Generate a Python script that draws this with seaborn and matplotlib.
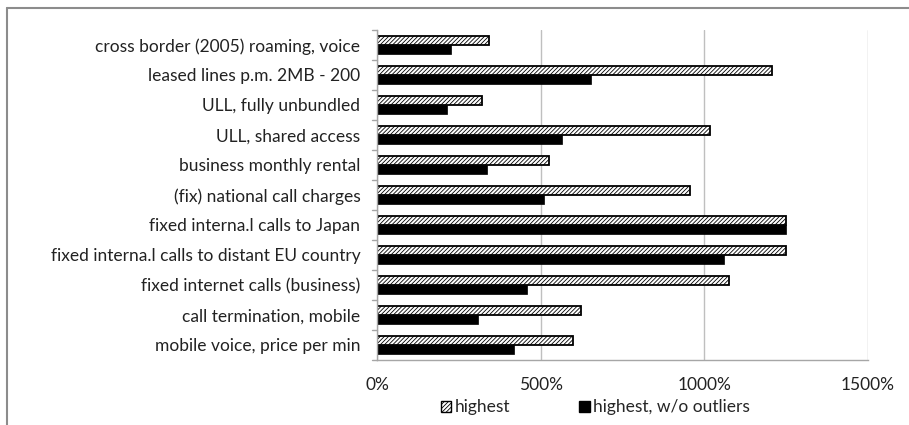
import pandas as pd
import numpy as np
import matplotlib
matplotlib.use("Agg")
import matplotlib.pyplot as plt
from matplotlib.lines import Line2D
from matplotlib.patches import Patch
import seaborn as sns

# values (highest price as % of lowest)
categories = [
    "cross border (2005) roaming, voice",
    "leased lines p.m. 2MB - 200",
    "ULL, fully unbundled",
    "ULL, shared access",
    "business monthly rental",
    "(fix) national call charges",
    "fixed interna.l calls to Japan",
    "fixed interna.l calls to distant EU country",
    "fixed internet calls (business)",
    "call termination, mobile",
    "mobile voice, price per min",
]
highest = [342, 1206, 320, 1017, 526, 957, 1249, 1249, 1075, 623, 600]
highest_wo = [227, 654, 213, 565, 337, 510, 1249, 1059, 458, 310, 419]
series = ["highest", "highest, w/o outliers"]
xticks = [0, 500, 1000, 1500]

sns.set_style("white")
plt.rcParams['font.family'] = ['Lato', 'DejaVu Sans']
plt.rcParams['hatch.linewidth'] = 0.6
FS = 12.5

df = pd.DataFrame({
    "category": categories * 2,
    "value": highest + highest_wo,
    "series": [series[0]] * len(categories) + [series[1]] * len(categories),
})

fig = plt.figure(figsize=(9.09, 4.25), dpi=100)
ax = fig.add_axes([377/909, 1 - 360/425, 491/909, 330/425])

sns.barplot(data=df, y="category", x="value", hue="series", orient="h",
            palette=["white", "black"], width=0.58, ax=ax, legend=False)

for bar in ax.containers[0]:
    bar.set_hatch("////////")
    bar.set_edgecolor("black")
    bar.set_linewidth(1.3)
for bar in ax.containers[1]:
    bar.set_edgecolor("black")
    bar.set_linewidth(0.5)

ax.set_xlim(0, 1500)
ax.set_ylim(len(categories) - 0.5, -0.5)
ax.set_xticks(xticks)
ax.set_xticklabels([f"{t}%" for t in xticks], fontsize=FS, color="#222222")
ax.set_yticks(np.arange(len(categories)))
ax.set_yticklabels(categories, fontsize=FS, color="#222222")
ax.set_xlabel("")
ax.set_ylabel("")
ax.xaxis.grid(True, color="#bfbfbf", linewidth=1)
ax.set_axisbelow(True)
for s in ["top", "right"]:
    ax.spines[s].set_visible(False)
for s in ["left", "bottom"]:
    ax.spines[s].set_color("#a6a6a6")
    ax.spines[s].set_linewidth(1)
ax.tick_params(axis="y", length=0, pad=12)
ax.tick_params(axis="x", length=0, pad=12)
# category separator ticks on the y axis
for yb in np.arange(-0.5, len(categories) + 0.5, 1):
    ax.plot([-0.011, 0], [yb, yb], transform=ax.get_yaxis_transform(),
            color="#a6a6a6", lw=1, clip_on=False)

handles = [Patch(facecolor="white", edgecolor="black", hatch="////////", linewidth=1),
           Patch(facecolor="black", edgecolor="black")]
fig.legend(handles, series, loc="center", bbox_to_anchor=(0.655, 0.042), ncol=2,
           frameon=False, fontsize=FS, handlelength=0.6, handleheight=0.6,
           handletextpad=0.2, columnspacing=4.0)

# title cut off at the top of the image, only descenders visible
fig.text(0.046, 1.0 + 5.5/425, "Figure 12: The relative price differences in the Member States "
         "(highest in % of the lowest one, EU27 2008)", fontsize=13, fontweight="bold",
         va="baseline", ha="left")

# outer chart frame (left and top sides visible)
fig.add_artist(Line2D([7/909, 7/909], [0, 1 - 8/425], color="#8c8c8c", lw=1.5))
fig.add_artist(Line2D([7/909, 1], [1 - 8/425, 1 - 8/425], color="#8c8c8c", lw=1.5))

fig.savefig("out.png", dpi=100)
